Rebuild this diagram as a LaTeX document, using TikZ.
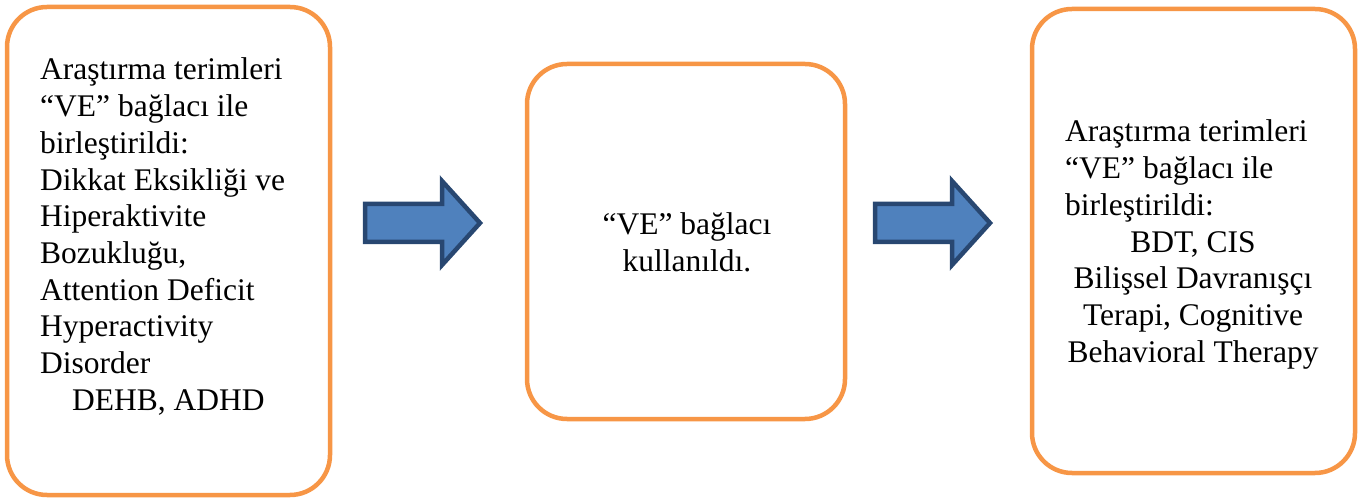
\documentclass[tikz,border=0pt]{standalone}
\usepackage{fontspec}
\setmainfont{Liberation Serif}
\definecolor{boxorange}{HTML}{F79646}
\definecolor{arrowfill}{HTML}{4F81BD}
\definecolor{arrowline}{HTML}{284771}
\begin{document}
\begin{tikzpicture}[x=1pt,y=-1pt,
  roundbox/.style={draw=boxorange,line width=4.5pt,rounded corners=40pt,fill=white},
  blockarrow/.style={draw=arrowline,fill=arrowfill,line width=4.5pt,line join=miter},
  txt/.style={inner sep=0pt,font=\fontsize{31.5}{36.7}\selectfont},
  lline/.style={txt,anchor=base west},
  cline/.style={txt,anchor=base}]
\useasboundingbox (0,0) rectangle (1362,502);
% boxes
\draw[roundbox] (7,7) rectangle (330,495);
\draw[roundbox] (527,64) rectangle (845,419);
\draw[roundbox] (1032,9) rectangle (1355,473);
% left box text
\foreach \t [count=\i from 0] in {Araştırma terimleri,“VE” bağlacı ile,birleştirildi:,Dikkat Eksikliği ve,Hiperaktivite,{Bozukluğu,},Attention Deficit,Hyperactivity,Disorder}
  \node[lline] (L\i) at (40,80+36.67*\i) {\t};
\node[lline] (L9) at (72,410) {DEHB, ADHD};
% middle box text
\node[cline] (M0) at (687,235) {“VE” bağlacı};
\node[cline] (M1) at (687,272) {kullanıldı.};
% right box text
\foreach \t [count=\i from 0] in {Araştırma terimleri,“VE” bağlacı ile,birleştirildi:}
  \node[lline] (R\i) at (1065,142+36.67*\i) {\t};
\foreach \t [count=\i from 3] in {{BDT, CIS},Bilişsel Davranışçı,{Terapi, Cognitive},Behavioral Therapy}
  \node[cline] (R\i) at (1193,142+36.67*\i) {\t};
% block arrows
\draw[blockarrow] (365,204) -- (442,204) -- (442,181) -- (480,223) -- (442,265) -- (442,242) -- (365,242) -- cycle;
\draw[blockarrow] (875,204) -- (952,204) -- (952,181) -- (990,223) -- (952,265) -- (952,242) -- (875,242) -- cycle;
\end{tikzpicture}
\end{document}
